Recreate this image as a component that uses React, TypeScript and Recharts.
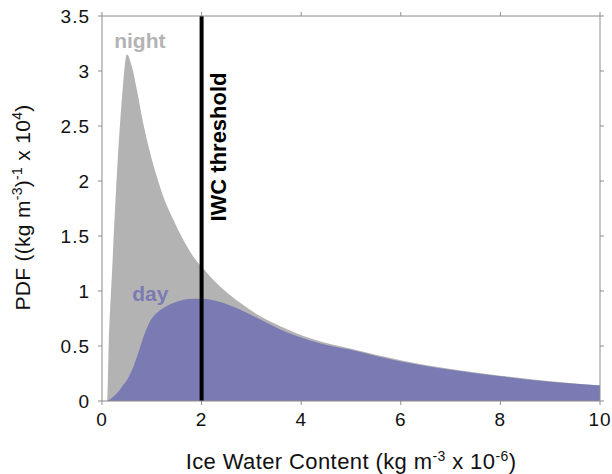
import React from 'react';
import {
    ComposedChart,
    Area,
    Line,
    XAxis,
    YAxis,
    ReferenceLine,
    ReferenceDot,
    Label
} from 'recharts';

// ice water content (kg m-3 x 1e-6)
const iwc = [0, 0.1, 0.14, 0.2, 0.3, 0.4, 0.5, 0.6, 0.7, 0.83, 0.97, 1.1, 1.23, 1.43, 1.64, 1.84, 2.0, 2.37, 2.78, 3.18, 3.58, 4.18, 4.6, 5, 5.5, 6, 7, 8, 9, 10];
// PDF values ((kg m-3)-1 x 1e4)
const nightPdf = [0, 0, 0.6, 1.16, 2.07, 2.75, 3.15, 3.04, 2.83, 2.52, 2.25, 2.04, 1.86, 1.65, 1.46, 1.31, 1.22, 1.04, 0.89, 0.77, 0.68, 0.57, 0.515, 0.475, 0.42, 0.37, 0.29, 0.23, 0.18, 0.14];
const dayPdf = [0, 0, 0.01, 0.03, 0.07, 0.13, 0.19, 0.28, 0.4, 0.58, 0.73, 0.8, 0.845, 0.89, 0.92, 0.93, 0.93, 0.9, 0.83, 0.74, 0.65, 0.55, 0.5, 0.465, 0.41, 0.36, 0.285, 0.225, 0.175, 0.14];

const xTicks = [0, 2, 4, 6, 8, 10];
const yTicks = [0, 0.5, 1, 1.5, 2, 2.5, 3, 3.5];
const threshold = 2;

const FONT = '"Liberation Sans", Arial, sans-serif';
const NIGHT = '#b3b3b3';
const DAY = '#7b7bb4';
const AXIS = '#8c8c8c';

const data = iwc.map((x, i) => ({ x, night: nightPdf[i], day: dayPdf[i] }));

const XTitle = (props: any) => {
    const { viewBox } = props;
    const cx = viewBox.x + viewBox.width / 2;
    const y = viewBox.y + 68;
    return (
        <text x={cx} y={y} textAnchor="middle" fontSize={22} letterSpacing={0.4} fontFamily={FONT} fill="#111">
            <tspan>Ice Water Content (kg m</tspan>
            <tspan dy={-8} fontSize={14}>-3</tspan>
            <tspan dy={8}> x 10</tspan>
            <tspan dy={-8} fontSize={14}>-6</tspan>
            <tspan dy={8}>)</tspan>
        </text>
    );
};

const YTitle = (props: any) => {
    const { viewBox } = props;
    const cx = 30;
    const cy = viewBox.y + viewBox.height / 2 - 1;
    return (
        <text x={cx} y={cy} transform={`rotate(-90 ${cx} ${cy})`} textAnchor="middle" fontSize={21} letterSpacing={0.3} fontFamily={FONT} fill="#111">
            <tspan>PDF ((kg m</tspan>
            <tspan dy={-8} fontSize={14}>-3</tspan>
            <tspan dy={8}>)</tspan>
            <tspan dy={-8} fontSize={14}>-1</tspan>
            <tspan dy={8}> x 10</tspan>
            <tspan dy={-8} fontSize={14}>4</tspan>
            <tspan dy={8}>)</tspan>
        </text>
    );
};

const ThresholdLabel = (props: any) => {
    const { viewBox } = props;
    const cx = viewBox.x + 24;
    const cy = 147;
    return (
        <text x={cx} y={cy} transform={`rotate(-90 ${cx} ${cy})`} textAnchor="middle" fontSize={22} fontWeight="bold" fontFamily={FONT} fill="#000">
            IWC threshold
        </text>
    );
};

const tickStyle = { fontSize: 19, fontFamily: FONT, fill: '#111', letterSpacing: 1 };

const App: React.FC = () => {
    return (
        <div style={{ position: 'absolute', left: 0, top: 0, width: 612, height: 474, background: '#fff' }}>
            <ComposedChart
                width={612}
                height={474}
                data={data}
                margin={{ top: 10, right: 6, bottom: 43, left: 42 }}
            >
                <XAxis
                    dataKey="x"
                    type="number"
                    domain={[0, 10]}
                    ticks={xTicks}
                    stroke={AXIS}
                    tickSize={4}
                    tickMargin={8}
                    tick={tickStyle}
                    height={30}
                    interval={0}
                >
                    <Label content={<XTitle />} />
                </XAxis>
                <XAxis
                    xAxisId="top"
                    orientation="top"
                    dataKey="x"
                    type="number"
                    domain={[0, 10]}
                    ticks={xTicks}
                    stroke={AXIS}
                    tickSize={4}
                    tickFormatter={() => ''}
                    height={6}
                />
                <YAxis
                    type="number"
                    domain={[0, 3.5]}
                    ticks={yTicks}
                    stroke={AXIS}
                    tickSize={4}
                    tickMargin={8}
                    tick={tickStyle}
                    width={60}
                    interval={0}
                >
                    <Label content={<YTitle />} />
                </YAxis>
                <YAxis
                    yAxisId="right"
                    orientation="right"
                    type="number"
                    domain={[0, 3.5]}
                    ticks={yTicks}
                    stroke={AXIS}
                    tickSize={4}
                    tickFormatter={() => ''}
                    width={6}
                />

                <Area
                    type="monotone"
                    dataKey="night"
                    stroke="none"
                    fill={NIGHT}
                    fillOpacity={1}
                    isAnimationActive={false}
                />
                <Area
                    type="monotone"
                    dataKey="day"
                    stroke="none"
                    fill={DAY}
                    fillOpacity={1}
                    isAnimationActive={false}
                />
                {/* invisible series so the mirrored box axes get drawn */}
                <Line
                    xAxisId="top"
                    yAxisId="right"
                    dataKey="night"
                    stroke="none"
                    dot={false}
                    activeDot={false}
                    isAnimationActive={false}
                />

                <ReferenceLine x={threshold} stroke="#000" strokeWidth={4}>
                    <Label content={<ThresholdLabel />} />
                </ReferenceLine>

                <ReferenceDot x={0.76} y={3.28} r={0} stroke="none" fill="none">
                    <Label value="night" position="center" fill={NIGHT} fontSize={21} fontWeight="bold" fontFamily={FONT} />
                </ReferenceDot>
                <ReferenceDot x={0.97} y={0.98} r={0} stroke="none" fill="none">
                    <Label value="day" position="center" fill={DAY} fontSize={21} fontWeight="bold" fontFamily={FONT} />
                </ReferenceDot>
            </ComposedChart>
        </div>
    );
};

export default App;
